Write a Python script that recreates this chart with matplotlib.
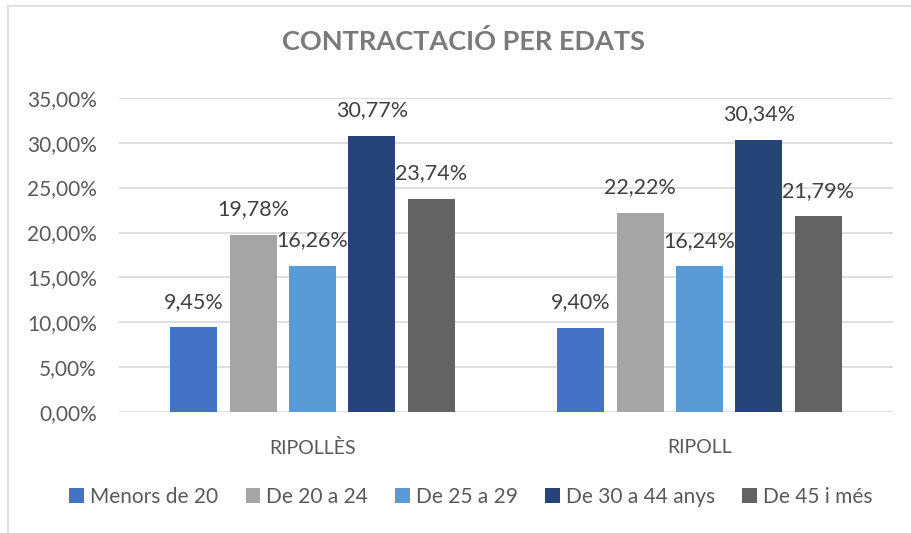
import matplotlib
matplotlib.use("Agg")
import matplotlib.pyplot as plt
from matplotlib.patches import Patch
from matplotlib.lines import Line2D
import numpy as np

# data (percentages)
groups = ["RIPOLLÈS", "RIPOLL"]
series_names = ["Menors de 20", "De 20 a 24", "De 25 a 29", "De 30 a 44 anys", "De 45 i més"]
menors_20 = [9.45, 9.40]
de_20_24 = [19.78, 22.22]
de_25_29 = [16.26, 16.24]
de_30_44 = [30.77, 30.34]
de_45_mes = [23.74, 21.79]
yticks = [0, 5, 10, 15, 20, 25, 30, 35]

colors = ["#4472C4", "#A5A5A5", "#5B9BD5", "#264478", "#636363"]
series = [menors_20, de_20_24, de_25_29, de_30_44, de_45_mes]

plt.rcParams["font.family"] = ["Lato", "DejaVu Sans"]


def pct(v):
    return f"{v:.2f}".replace(".", ",") + "%"


fig = plt.figure(figsize=(9.12, 5.33), dpi=100)
ax = fig.add_axes([119 / 912, 1 - 412.3 / 533, (893 - 119) / 912, (412.3 - 97.7) / 533])

x = np.arange(len(groups))
width = 0.1214
step = 0.1535

for i, (vals, c) in enumerate(zip(series, colors)):
    pos = x + (i - 2) * step
    bars = ax.bar(pos, vals, width=width, color=c, zorder=3)
    for b, v in zip(bars, vals):
        ax.annotate(pct(v), (b.get_x() + b.get_width() / 2, v),
                    xytext=(0, 18.5), textcoords="offset points",
                    ha="center", va="center", fontsize=15.5, color="#404040")

ax.set_xlim(-0.5, 1.5)
ax.set_ylim(0, 35)
ax.set_yticks(yticks)
ax.set_yticklabels([pct(t) for t in yticks])
ax.set_xticks(x)
ax.set_xticklabels(groups)
ax.yaxis.grid(True, color="#D9D9D9", linewidth=1.2, zorder=0)
ax.tick_params(axis="y", length=0, pad=16, labelsize=15, labelcolor="#595959")
ax.tick_params(axis="x", length=0, pad=19, labelsize=14, labelcolor="#595959")
for s in ax.spines.values():
    s.set_visible(False)

fig.text(463 / 912, 1 - 42 / 533, "CONTRACTACIÓ PER EDATS", ha="center", va="center",
         fontsize=19.5, fontweight="bold", color="#7A7A7A")

handles = [Patch(facecolor=c, edgecolor="none") for c in colors]
fig.legend(handles, series_names, loc="center", bbox_to_anchor=(471 / 912, 1 - 497 / 533),
           ncol=5, frameon=False, fontsize=15, handlelength=0.7, handleheight=0.7,
           handletextpad=0.3, columnspacing=1.3, labelcolor="#595959")

# chart border (cropped on the right and bottom)
fig.add_artist(Line2D([8 / 912, 8 / 912], [0, 1 - 6 / 533], color="#D9D9D9", linewidth=1.2))
fig.add_artist(Line2D([8 / 912, 1], [1 - 6 / 533, 1 - 6 / 533], color="#D9D9D9", linewidth=1.2))

fig.savefig("out.png", dpi=100)
